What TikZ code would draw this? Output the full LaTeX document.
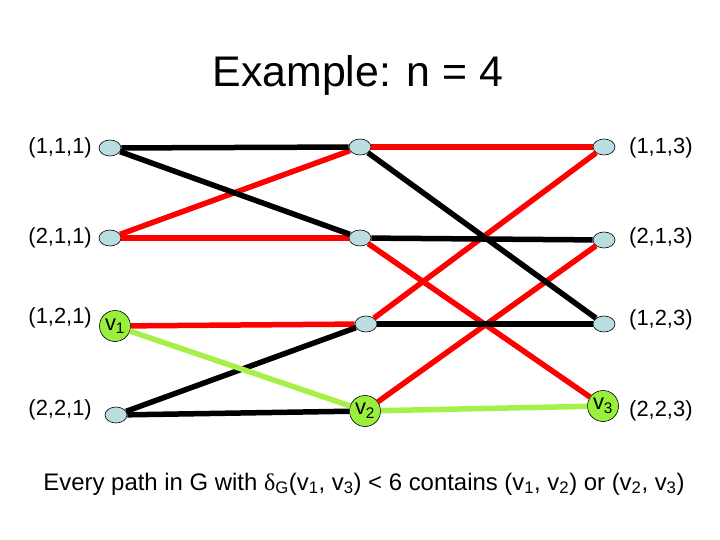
\documentclass[tikz,border=0pt]{standalone}
\usepackage{fontspec}
\setmainfont{Liberation Sans}
\newfontfamily\greekfont{Liberation Serif}
\usetikzlibrary{shapes.geometric}
\definecolor{nodeblue}{HTML}{B9DDE1}
\definecolor{vgreen}{HTML}{99F03C}
\definecolor{edgered}{HTML}{FF0000}
\definecolor{edgegreen}{HTML}{A6F04A}

\begin{document}
\begin{tikzpicture}[
    x=1bp, y=-1bp,
    % plain vertices are small pale ellipses, the three named ones are green discs
    vert/.style={draw, ellipse, fill=nodeblue, line width=0.6pt, inner sep=0pt,
                 minimum width=22bp, minimum height=16bp},
    named/.style={draw, circle, fill=vgreen, line width=0.6pt, inner sep=0pt,
                  minimum size=31bp, font=\fontsize{22}{26}\selectfont},
    lab/.style={font=\fontsize{22}{26}\selectfont, inner sep=0pt},
    % the three kinds of edges only differ by colour
    blk/.style={line width=5.5bp, draw=black},
    rd/.style={line width=5.5bp, draw=edgered},
    grn/.style={line width=5.5bp, draw=edgegreen},
]
\useasboundingbox (0,0) rectangle (720,540);

%================= title =================%
\node[font=\fontsize{43}{50}\selectfont, anchor=base] (title) at (358,87) {Example: n = 4};

%================= left column =================%
\node[vert]  (n111) at (110,148) {};
\node[vert]  (n211) at (110,238) {};
\node[named] (n121) at (115,326) {v\textsubscript{1}};
\node[vert]  (n221) at (116,415) {};

%================= middle column =================%
\node[vert]  (n112) at (360,147) {};
\node[vert]  (n212) at (360,238) {};
\node[vert]  (n122) at (366,324) {};
\node[named] (n222) at (365,411) {v\textsubscript{2}};

%================= right column =================%
\node[vert]  (n113) at (604,147) {};
\node[vert]  (n213) at (604,240) {};
\node[vert]  (n123) at (604,324) {};
\node[named] (n223) at (603,406) {v\textsubscript{3}};

%================= edges =================%
\draw[rd] (n112) -- (n113);
\draw[rd] (n211) -- (n112);
\draw[rd] (n211) -- (n212);
\draw[rd] (n212) -- (n223);
\draw[rd] (n121) -- (n122);
\draw[rd] (n122) -- (n113);
\draw[rd] (n222) -- (n213);
\draw[blk] (n111) -- (n112);
\draw[blk] (n111) -- (n212);
\draw[blk] (n112) -- (n123);
\draw[blk] (n212) -- (n213);
\draw[blk] (n122) -- (n123);
\draw[blk] (n221) -- (n122);
\draw[blk] (n221) -- (n222);
\draw[grn] (n121) -- (n222);
\draw[grn] (n222) -- (n223);

%================= vertex labels =================%
\node[lab, anchor=east] (t111) at (92,148) {(1,1,1)};
\node[lab, anchor=east] (t211) at (92,238) {(2,1,1)};
\node[lab, anchor=east] (t121) at (92,318) {(1,2,1)};
\node[lab, anchor=east] (t221) at (92,410) {(2,2,1)};
\node[lab, anchor=west] (t113) at (629,148) {(1,1,3)};
\node[lab, anchor=west] (t213) at (629,238) {(2,1,3)};
\node[lab, anchor=west] (t123) at (629,320) {(1,2,3)};
\node[lab, anchor=west] (t223) at (629,411) {(2,2,3)};

%================= caption =================%
\node[font=\fontsize{24}{28}\selectfont, inner sep=0pt, anchor=base] (caption) at (364,490)
    {Every path in G with {\greekfont δ}\textsubscript{G}(v\textsubscript{1}, v\textsubscript{3}) < 6
     contains (v\textsubscript{1}, v\textsubscript{2}) or (v\textsubscript{2}, v\textsubscript{3})};

\end{tikzpicture}
\end{document}
